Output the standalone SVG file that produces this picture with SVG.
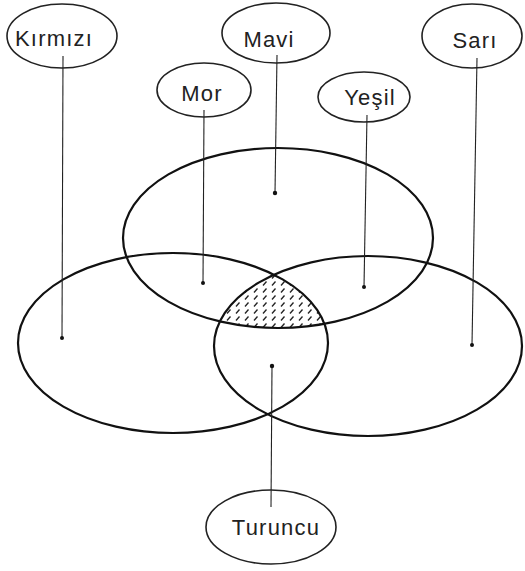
<svg xmlns="http://www.w3.org/2000/svg" width="525" height="571" viewBox="0 0 525 571">
<style>
.big{fill:none;stroke:#111;stroke-width:2.2}
.lab{fill:none;stroke:#222;stroke-width:1.6}
.t{font-family:"Liberation Sans",Arial,sans-serif;font-size:22px;fill:#222;text-anchor:middle;letter-spacing:1.2px}
.c{stroke:#222;stroke-width:1.1;fill:none}
.d{fill:#111}
</style>
<defs>
<pattern id="hatch" width="9" height="7" patternUnits="userSpaceOnUse">
<line x1="2" y1="5.5" x2="5.5" y2="1.5" stroke="#222" stroke-width="1.3"/>
</pattern>
<clipPath id="cTop"><ellipse cx="278" cy="238" rx="155" ry="90"/></clipPath>
<clipPath id="cLeft"><ellipse cx="173" cy="343" rx="155" ry="90"/></clipPath>
<clipPath id="cRight"><ellipse cx="368" cy="346" rx="154" ry="90"/></clipPath>
</defs>
<rect width="525" height="571" fill="#fff"/>
<g id="hatched-intersection" clip-path="url(#cTop)">
<g clip-path="url(#cLeft)">
<rect x="150" y="250" width="250" height="120" fill="url(#hatch)" clip-path="url(#cRight)"/>
</g>
</g>
<g id="set-top"><ellipse class="big" cx="278" cy="238" rx="155" ry="90"/></g>
<g id="set-left"><ellipse class="big" cx="173" cy="343" rx="155" ry="90"/></g>
<g id="set-right"><ellipse class="big" cx="368" cy="346" rx="154" ry="90"/></g>
<g id="connectors">
<line class="c" x1="63" y1="56" x2="62" y2="338"/><circle class="d" cx="62" cy="338" r="2"/>
<line class="c" x1="277" y1="55" x2="275" y2="193"/><circle class="d" cx="275" cy="193" r="2.2"/>
<line class="c" x1="204" y1="110" x2="203" y2="283"/><circle class="d" cx="203" cy="283" r="2"/>
<line class="c" x1="367" y1="115" x2="364" y2="287"/><circle class="d" cx="364" cy="287" r="2"/>
<line class="c" x1="477" y1="58" x2="472" y2="345"/><circle class="d" cx="472" cy="345" r="2"/>
<line class="c" x1="271" y1="507" x2="272" y2="366"/><circle class="d" cx="272" cy="366" r="2.2"/>
</g>
<g id="kirmizi"><ellipse class="lab" cx="62" cy="36" rx="55" ry="32"/><text class="t" x="54" y="46">Kırmızı</text></g>
<g id="mavi"><ellipse class="lab" cx="276" cy="33" rx="54" ry="30"/><text class="t" x="269" y="47">Mavi</text></g>
<g id="sari"><ellipse class="lab" cx="472" cy="36" rx="50" ry="32"/><text class="t" x="475" y="48">Sarı</text></g>
<g id="mor"><ellipse class="lab" cx="204" cy="90" rx="47" ry="27"/><text class="t" x="202" y="101">Mor</text></g>
<g id="yesil"><ellipse class="lab" cx="364" cy="97" rx="46" ry="25"/><text class="t" x="370" y="105">Yeşil</text></g>
<g id="turuncu"><ellipse class="lab" cx="271" cy="527" rx="65" ry="37"/><text class="t" x="276" y="535">Turuncu</text></g>
</svg>
